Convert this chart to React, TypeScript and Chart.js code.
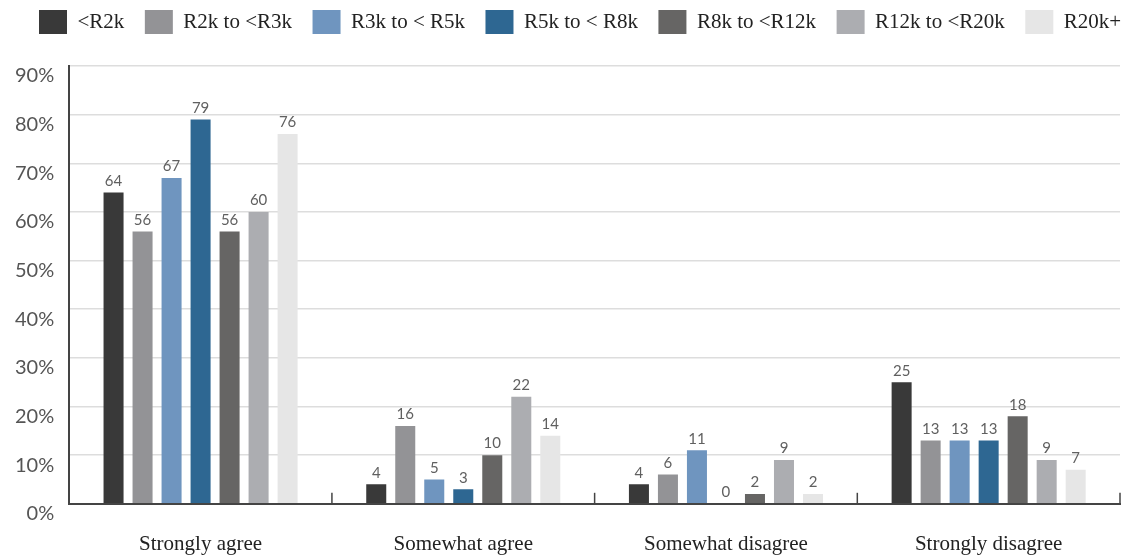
import React, { useEffect, useRef } from "react";
import { Chart, registerables } from "chart.js";

Chart.register(...registerables);

const categories = ["Strongly agree", "Somewhat agree", "Somewhat disagree", "Strongly disagree"];
const seriesNames = ["<R2k", "R2k to <R3k", "R3k to < R5k", "R5k to < R8k", "R8k to <R12k", "R12k to <R20k", "R20k+"];
const seriesColors = ["#393939", "#939396", "#6f95bf", "#2e6792", "#666564", "#acadb1", "#e6e6e6"];
const lt2k = [64, 4, 4, 25];
const r2to3 = [56, 16, 6, 13];
const r3to5 = [67, 5, 11, 13];
const r5to8 = [79, 3, 0, 13];
const r8to12 = [56, 10, 2, 18];
const r12to20 = [60, 22, 9, 9];
const r20plus = [76, 14, 2, 7];
const seriesValues = [lt2k, r2to3, r3to5, r5to8, r8to12, r12to20, r20plus];
const yTicks = [0, 10, 20, 30, 40, 50, 60, 70, 80, 90];

const LEGEND_PAD = 20.5;

const legendSpacer = {
  id: "legendSpacer",
  beforeInit(chart: any) {
    const orig = chart.legend.fit;
    chart.legend.fit = function () {
      this.maxWidth = 1600;
      orig.call(this);
      this.height += 22;
    };
  },
  afterLayout(chart: any) {
    chart.legend.left = 39 - LEGEND_PAD;
    chart.legend.right = 2000;
  },
};

const valueLabels = {
  id: "valueLabels",
  afterDatasetsDraw(chart: any) {
    const ctx = chart.ctx;
    ctx.save();
    ctx.font = "15px Lato";
    ctx.fillStyle = "#606060";
    ctx.textAlign = "center";
    ctx.textBaseline = "bottom";
    chart.data.datasets.forEach((ds: any, i: number) => {
      const meta = chart.getDatasetMeta(i);
      meta.data.forEach((bar: any, j: number) => {
        ctx.fillText(String(ds.data[j]), bar.x, bar.y - 4);
      });
    });
    ctx.restore();
  },
};

const boundaryTicks = {
  id: "boundaryTicks",
  afterDraw(chart: any) {
    const x = chart.scales.x;
    const ctx = chart.ctx;
    const bottom = chart.chartArea.bottom;
    ctx.save();
    ctx.strokeStyle = "#444444";
    ctx.lineWidth = 1.5;
    const n = categories.length;
    for (let i = 1; i <= n; i++) {
      const px = i < n
        ? (x.getPixelForValue(i - 1) + x.getPixelForValue(i)) / 2
        : x.right;
      ctx.beginPath();
      ctx.moveTo(px, bottom);
      ctx.lineTo(px, bottom - 11);
      ctx.stroke();
    }
    ctx.restore();
  },
};

export default function App() {
  const ref = useRef<HTMLCanvasElement>(null);
  useEffect(() => {
    if (!ref.current) return;
    const chart = new Chart(ref.current, {
      type: "bar",
      data: {
        labels: categories,
        datasets: seriesNames.map((name, i) => ({
          label: name,
          data: seriesValues[i],
          backgroundColor: seriesColors[i],
          borderWidth: 0,
          categoryPercentage: 0.773,
          barPercentage: 0.69,
        })),
      },
      options: {
        animation: false,
        responsive: false,
        maintainAspectRatio: false,
        layout: { padding: { left: 0, right: 18, top: -10.5, bottom: -27 } },
        plugins: {
          tooltip: { enabled: false },
          legend: {
            position: "top",
            align: "start",
            labels: {
              boxWidth: 28,
              boxHeight: 24,
              padding: LEGEND_PAD,
              color: "#222222",
              font: { family: "Liberation Serif", size: 21 },
            },
          },
        },
        scales: {
          x: {
            grid: { display: false, drawTicks: false },
            border: { display: true, color: "#444444", width: 2 },
            ticks: {
              color: "#222222",
              padding: 28,
              font: { family: "Liberation Serif", size: 21 },
            },
          },
          y: {
            min: 0,
            max: 90,
            afterBuildTicks: (axis: any) => {
              axis.ticks = yTicks.map((v) => ({ value: v }));
            },
            grid: { color: "#dddddd", lineWidth: 1.5, drawTicks: false },
            border: { display: true, color: "#444444", width: 2 },
            ticks: {
              color: "#555555",
              padding: 15,
              labelOffset: 10,
              font: { family: "Lato", size: 20 },
              callback: (v: any) => v + "%",
            },
          },
        },
      },
      plugins: [legendSpacer, valueLabels, boundaryTicks],
    });
    return () => chart.destroy();
  }, []);
  return (
    <div style={{ position: "absolute", left: 0, top: 0, width: 1138, height: 558, background: "#fff" }}>
      <canvas ref={ref} width={1138} height={558} style={{ width: 1138, height: 558 }} />
    </div>
  );
}
